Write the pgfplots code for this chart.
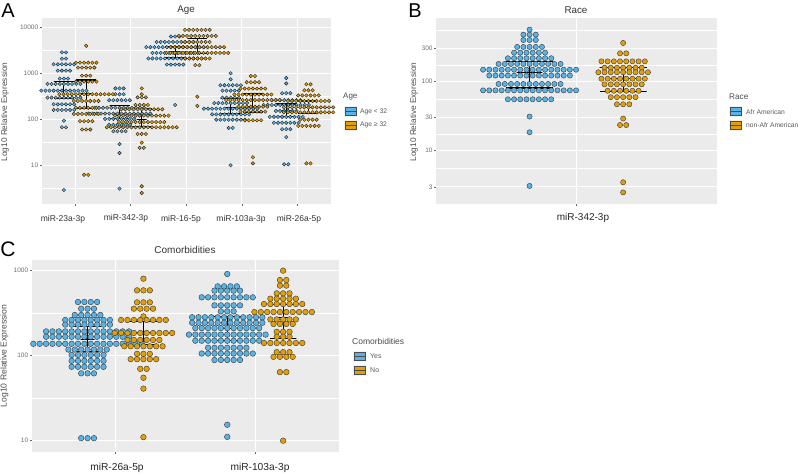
\documentclass[border=0pt]{standalone}
\usepackage{fontspec}
\setmainfont{Liberation Sans}
\usepackage{pgfplots}
\usepackage{pgfplotstable}
\pgfplotsset{compat=1.18}

\definecolor{cbblue}{HTML}{56B4E9}
\definecolor{cborange}{HTML}{E69F00}
\definecolor{panelbg}{HTML}{EBEBEB}
\definecolor{ticktxt}{HTML}{6E6E6E}

% one row per stack of dots: group centre, value, number of dots
\pgfplotstableread{
x y n
0.8 2860 2
0.8 2080 2
0.8 1570 6
0.8 1143 4
0.8 766 3
0.8 587 9
0.8 420 12
0.8 296 9
0.8 212 6
0.8 160 6
0.8 93 1
0.8 67 2
0.8 2.9 1
1.8 470 3
1.8 350 3
1.8 260 6
1.8 178 13
1.8 133 16
1.8 102 8
1.8 76 6
1.8 55 4
1.8 29 1
1.8 18.5 1
1.8 3.1 1
2.8 6300 3
2.8 4800 10
2.8 3700 15
2.8 2780 12
2.8 2100 14
2.8 1550 5
2.8 205 1
3.8 1000 1
3.8 740 1
3.8 550 6
3.8 420 5
3.8 295 5
3.8 225 9
3.8 170 14
3.8 128 10
3.8 98 8
3.8 65 2
3.8 10 1
4.8 790 1
4.8 600 1
4.8 370 3
4.8 260 8
4.8 205 12
4.8 152 6
4.8 113 9
4.8 84 7
4.8 61 3
4.8 41 1
4.8 10.5 2
}\ablue
\pgfplotstableread{
x y n
1.2 3950 1
1.2 1700 6
1.2 1330 5
1.2 890 3
1.2 660 6
1.2 350 14
1.2 250 7
1.2 178 6
1.2 131 7
1.2 91 4
1.2 60 3
1.2 6.2 2
2.2 470 1
2.2 350 1
2.2 300 3
2.2 205 4
2.2 165 11
2.2 120 14
2.2 87 12
2.2 67 18
2.2 48 3
2.2 31 1
2.2 24 2
2.2 3.5 1
2.2 2.5 1
3.2 8800 7
3.2 6500 10
3.2 4800 7
3.2 3700 14
3.2 2780 16
3.2 2100 7
3.2 1500 2
3.2 310 1
3.2 195 1
4.2 870 2
4.2 640 4
4.2 465 7
4.2 345 10
4.2 262 14
4.2 188 8
4.2 147 7
4.2 95 5
4.2 15 1
4.2 11 1
5.2 577 2
5.2 428 3
5.2 330 6
5.2 250 11
5.2 182 13
5.2 142 13
5.2 98 5
5.2 72 6
5.2 11 2
}\aorange
\pgfplotstableread{
x y n
0.8 556 1
0.8 471 3
0.8 394 3
0.8 313 5
0.8 259 6
0.8 215 8
0.8 178 11
0.8 147 16
0.8 121 14
0.8 91.6 11
0.8 74 16
0.8 55 8
0.8 31 1
0.8 18.4 1
0.8 3.1 1
}\bblue
\pgfplotstableread{
x y n
1.2 357 1
1.2 253 2
1.2 194 8
1.2 157 7
1.2 135 9
1.2 109 8
1.2 90.5 7
1.2 73 6
1.2 59 5
1.2 46.6 3
1.2 29 1
1.2 23.4 2
1.2 3.5 1
1.2 2.5 1
}\borange
\pgfplotstableread{
x y n
0.8 428 4
0.8 357 3
0.8 301 5
0.8 263 8
0.8 232 8
0.8 193 14
0.8 167 14
0.8 138 18
0.8 118 7
0.8 102 6
0.8 87 6
0.8 74 6
0.8 62 3
0.8 10.7 3
1.8 914 1
1.8 654 4
1.8 582 5
1.8 486 9
1.8 391 5
1.8 332 3
1.8 283 12
1.8 244 12
1.8 211 11
1.8 177 13
1.8 150 11
1.8 124 7
1.8 106 9
1.8 89 5
1.8 15.4 1
1.8 11.1 1
}\cblue
\pgfplotstableread{
x y n
1.2 805 1
1.2 587 3
1.2 424 3
1.2 357 4
1.2 290 1
1.2 263 8
1.2 185 10
1.2 153 6
1.2 129 7
1.2 105 3
1.2 91 5
1.2 70 2
1.2 55 1
1.2 41 1
1.2 11 1
2.2 1000 1
2.2 776 2
2.2 667 2
2.2 541 3
2.2 468 5
2.2 405 7
2.2 326 10
2.2 267 5
2.2 236 4
2.2 191 3
2.2 167 3
2.2 141 7
2.2 110 3
2.2 97 4
2.2 64 2
2.2 10 1
}\corange

% turn a table of rows into a coordinate list, dots side by side around the group centre
\newcommand\buildswarm[3]{%
  \begingroup
  \gdef#3{}%
  \pgfplotstablegetrowsof{#1}%
  \pgfmathtruncatemacro\swlast{\pgfplotsretval-1}%
  \pgfplotsforeachungrouped \swrow in {0,...,\swlast}{%
    \pgfplotstablegetelem{\swrow}{x}\of{#1}\let\swcx\pgfplotsretval
    \pgfplotstablegetelem{\swrow}{y}\of{#1}\let\swcy\pgfplotsretval
    \pgfplotstablegetelem{\swrow}{n}\of{#1}\let\swcn\pgfplotsretval
    \pgfmathtruncatemacro\swlastk{\swcn-1}%
    \pgfplotsforeachungrouped \swk in {0,...,\swlastk}{%
      \pgfmathsetmacro\swpx{\swcx+(\swk-(\swcn-1)/2)*#2}%
      \xdef#3{#3 (\swpx,\swcy)}%
    }%
  }%
  \endgroup
}
\buildswarm{\ablue}{0.074}{\ablueC}
\buildswarm{\aorange}{0.074}{\aorangeC}
\buildswarm{\bblue}{0.0265}{\bblueC}
\buildswarm{\borange}{0.0265}{\borangeC}
\buildswarm{\cblue}{0.0457}{\cblueC}
\buildswarm{\corange}{0.0457}{\corangeC}

\newcommand\swarm[2]{%
  \edef\swtmp{\noexpand\addplot[#2] coordinates {#1};}\swtmp
}
% centre, lower, median, upper, half width of caps, half width of median
\newcommand\ebar[6]{%
  \pgfmathsetmacro\ebxa{#1-#5}\pgfmathsetmacro\ebxb{#1+#5}%
  \pgfmathsetmacro\ebxc{#1-#6}\pgfmathsetmacro\ebxd{#1+#6}%
  \edef\swtmp{\noexpand\addplot[errbar] coordinates {(\ebxa,#2)(\ebxb,#2)(#1,#2)(#1,#3)(\ebxc,#3)(\ebxd,#3)(#1,#3)(#1,#4)(\ebxa,#4)(\ebxb,#4)};}\swtmp
}
\newcommand\legkey[3]{%
  \fill[white!95!black] (#1-1,#2-1) rectangle (#1+12,#2+10);
  \draw[black!70,fill=#3,line width=0.5pt] (#1,#2) rectangle (#1+11,#2+8);
  \draw[black!70,line width=0.5pt] (#1,#2+4) -- (#1+11,#2+4);
}

\pgfplotsset{
  every axis/.append style={
    scale only axis,
    axis background/.style={fill=panelbg},
    axis line style={draw=none},
    grid=both,
    major grid style={white,line width=0.8pt},
    minor grid style={white,line width=0.45pt},
    tick align=outside,
    major tick length=1.8pt,
    minor tick length=0pt,
    tick style={black!60,line width=0.4pt},
    xticklabels={},
    xtick pos=bottom,
    ytick pos=left,
    clip=false,
    yticklabel style={font=\fontsize{6.5}{7}\selectfont,text=ticktxt,inner sep=1.5pt},
  },
  errbar/.style={black,line width=1.05pt,mark=none,sharp plot},
  dotsa/.style={only marks,mark=*,mark size=1.75pt,mark options={fill=#1,draw=black!85,line width=0.4pt}},
  dotsb/.style={only marks,mark=*,mark size=2.6pt,mark options={fill=#1,draw=black!75,line width=0.45pt}},
  dotsc/.style={only marks,mark=*,mark size=2.8pt,mark options={fill=#1,draw=black!75,line width=0.45pt}},
}

\begin{document}
\begin{tikzpicture}[x=1pt,y=-1pt]
\useasboundingbox (0,0) rectangle (800,474);

% panel A
\begin{axis}[ymode=log,at={(41.7pt,-204pt)},anchor=south west,width=289pt,height=185.7pt,
  xmin=0.4,xmax=5.6,ymin=1.44,ymax=15700,
  xtick={1,2,3,4,5},
  ytick={10,100,1000,10000},yticklabels={10,100,1000,10000},
  minor ytick={3.16,31.6,316,3160}]
\swarm{\ablueC}{dotsa=cbblue}
\swarm{\aorangeC}{dotsa=cborange}
\ebar{0.8}{281}{420}{659}{0.18}{0.09}
\ebar{1.2}{173}{367}{716}{0.18}{0.09}
\ebar{1.8}{105}{135}{195}{0.18}{0.09}
\ebar{2.2}{69}{100}{173}{0.18}{0.09}
\ebar{2.8}{2230}{2950}{3800}{0.18}{0.09}
\ebar{3.2}{2700}{3630}{5740}{0.18}{0.09}
\ebar{3.8}{131}{182}{286}{0.18}{0.09}
\ebar{4.2}{140}{188}{355}{0.18}{0.09}
\ebar{4.8}{115}{154}{215}{0.18}{0.09}
\ebar{5.2}{135}{182}{250}{0.18}{0.09}
\end{axis}

% panel B
\begin{axis}[ymode=log,at={(436pt,-204pt)},anchor=south west,width=280.7pt,height=185.7pt,
  xmin=0.4,xmax=1.6,ymin=1.70,ymax=810,
  xtick={1},
  ytick={3,10,30,100,300},yticklabels={3,10,30,100,300},
  minor ytick={5.5,17.3,55,173,548}]
\swarm{\bblueC}{dotsb=cbblue}
\swarm{\borangeC}{dotsb=cborange}
\ebar{0.8}{80}{132}{194}{0.1}{0.055}
\ebar{1.2}{71}{109}{157}{0.1}{0.055}
\end{axis}

% panel C
\begin{axis}[ymode=log,at={(31.7pt,-452pt)},anchor=south west,width=307.3pt,height=192pt,
  xmin=0.4,xmax=2.6,ymin=7.36,ymax=1335,
  xtick={1,2},
  ytick={10,100,1000},yticklabels={10,100,1000},
  minor ytick={31.6,316}]
\swarm{\cblueC}{dotsc=cbblue}
\swarm{\corangeC}{dotsc=cborange}
\ebar{0.8}{112}{157}{219}{0.095}{0.05}
\ebar{1.2}{135}{186}{253}{0.095}{0.05}
\ebar{1.8}{150}{208}{290}{0.095}{0.05}
\ebar{2.2}{160}{283}{398}{0.095}{0.05}
\end{axis}

% panel letters
\node[font=\fontsize{20}{22}\selectfont,inner sep=0pt] at (8,11) {A};
\node[font=\fontsize{20}{22}\selectfont,inner sep=0pt] at (415,11) {B};
\node[font=\fontsize{21}{22}\selectfont,inner sep=0pt] at (8,249) {C};

% titles
\node[font=\fontsize{9.8}{11}\selectfont,text=black!80] at (186,10) {Age};
\node[font=\fontsize{9.8}{11}\selectfont,text=black!80] at (576,10) {Race};
\node[font=\fontsize{10}{11}\selectfont,text=black!80] at (185,250) {Comorbidities};

% y labels
\node[font=\fontsize{8.3}{9}\selectfont,text=black!70,rotate=90] at (5,112) {Log10 Relative Expression};
\node[font=\fontsize{8.3}{9}\selectfont,text=black!70,rotate=90] at (414,112) {Log10 Relative Expression};
\node[font=\fontsize{8.6}{9}\selectfont,text=black!70,rotate=90] at (4.5,356) {Log10 Relative Expression};

% category names, set by hand as in the figure
\begin{scope}[every node/.style={font=\fontsize{8.5}{9}\selectfont,text=black!80}]
\node at (63,219) {miR-23a-3p};
\node at (126,218) {miR-342-3p};
\node at (181,219) {miR-16-5p};
\node at (241,219) {miR-103a-3p};
\node at (299,219) {miR-26a-5p};
\end{scope}
\node[font=\fontsize{10}{11}\selectfont,text=black!85] at (583,218) {miR-342-3p};
\node[font=\fontsize{10.2}{11}\selectfont,text=black!85] at (117,468) {miR-26a-5p};
\node[font=\fontsize{10.2}{11}\selectfont,text=black!85] at (260,468) {miR-103a-3p};

% legend A
\node[anchor=west,inner sep=0pt,font=\fontsize{8}{9}\selectfont,text=black!70] at (343,97) {Age};
\legkey{345}{107}{cbblue}
\legkey{345}{121}{cborange}
\node[anchor=west,inner sep=0pt,font=\fontsize{6.7}{8}\selectfont,text=black!65] at (360,112) {Age < 32};
\node[anchor=west,inner sep=0pt,font=\fontsize{6.7}{8}\selectfont,text=black!65] at (360,125) {Age ≥ 32};

% legend B
\node[anchor=west,inner sep=0pt,font=\fontsize{8.2}{9}\selectfont,text=black!70] at (729,97) {Race};
\legkey{730}{107}{cbblue}
\legkey{730}{121}{cborange}
\node[anchor=west,inner sep=0pt,font=\fontsize{6.7}{8}\selectfont,text=black!65] at (746,112) {Afr American};
\node[anchor=west,inner sep=0pt,font=\fontsize{6.7}{8}\selectfont,text=black!65] at (746,125) {non-Afr American};

% legend C
\node[anchor=west,inner sep=0pt,font=\fontsize{8.5}{9}\selectfont,text=black!70] at (352,341) {Comorbidities};
\legkey{354}{352}{cbblue}
\legkey{354}{366}{cborange}
\node[anchor=west,inner sep=0pt,font=\fontsize{7}{8}\selectfont,text=black!65] at (370,356) {Yes};
\node[anchor=west,inner sep=0pt,font=\fontsize{7}{8}\selectfont,text=black!65] at (370,370) {No};
\end{tikzpicture}
\end{document}
